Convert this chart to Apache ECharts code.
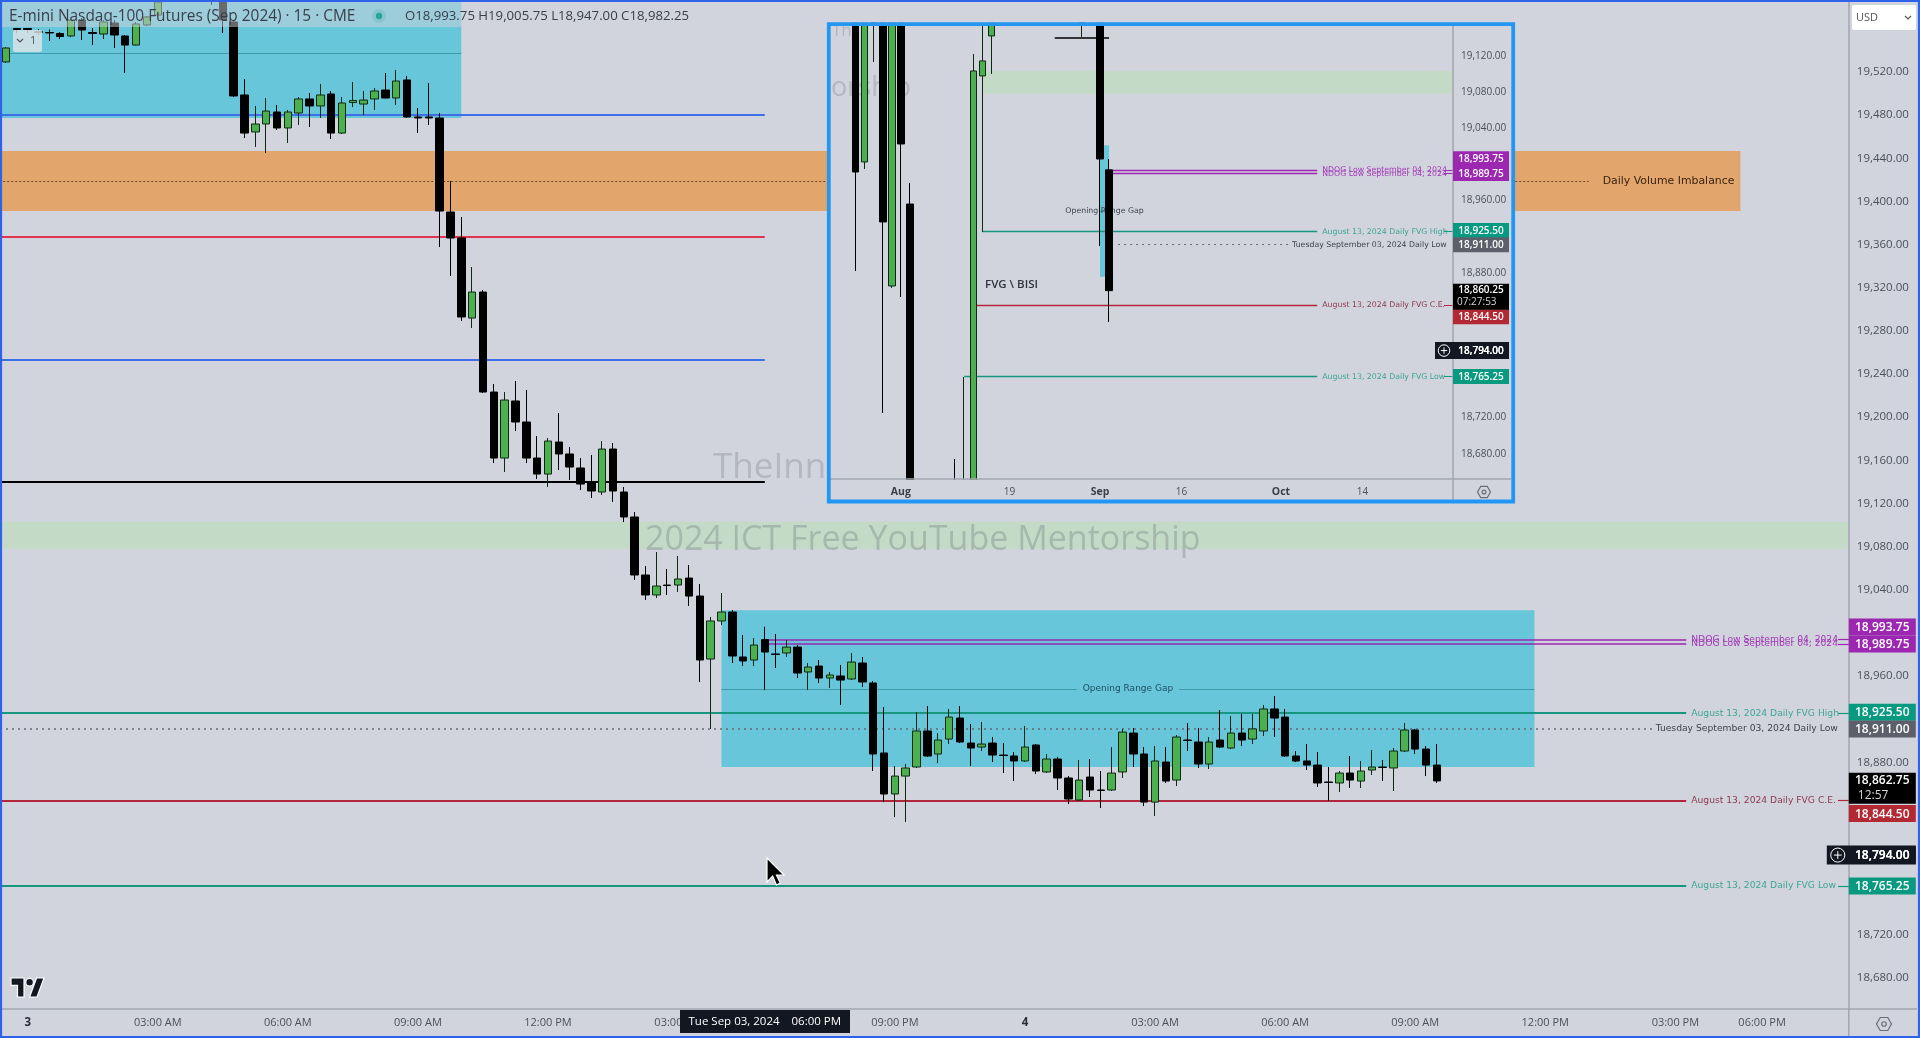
<!DOCTYPE html>
<html><head><meta charset="utf-8">
<style>html,body{margin:0;padding:0;background:#d1d4dc;overflow:hidden}#c{width:1920px;height:1038px}</style>
<script src="https://cdn.jsdelivr.net/npm/echarts@6/dist/echarts.min.js"></script>
</head><body><div id="c"></div>
<script>
// ---- main chart: 15 minute candles, Sep 3-4 2024 ----
const opens=[19529,19529.3,19560.3,19560.3,19556.6,19556.6,19555.7,19553.4,19568.2,19556.6,
19555.2,19565.4,19553.4,19545,19563.6,19572.8,19590,19605,19595,19612,
19600,19584.9,19566.4,19498.7,19464.4,19471.8,19482.9,19468.1,19482,19495,
19488.5,19499.6,19463.4,19491.7,19490.3,19495,19503.3,19495.9,19512.6,19478.3,
19478.3,19477.35,19390.2,19366.1,19291.9,19316,19223.3,19162.1,19215,19195.5,
19162.1,19147.25,19176.95,19165.85,19152.85,19139.85,19130.6,19170.45,19130.6,19107.45,
19053.65,19035.15,19044.35,19044.35,19050.85,19034.15,18975.75,19011.05,19019.35,18977.65,
18974.85,18993.75,18980.45,18981.35,18986.85,18963.75,18969.25,18958.15,18960.05,18957.25,
18972.05,18953.55,18888.65,18850.65,18867.25,18875.65,18909.05,18887.7,18901.55,18921.05,
18897.85,18894.15,18897.85,18886.75,18885.85,18881.25,18896.05,18871.05,18883.05,18865.45,
18845.05,18866.35,18854.35,18854.35,18871.05,18907.15,18887.7,18843.15,18880.25,18863.55,
18900.65,18898.85,18878.45,18900.65,18893.25,18907.15,18901.55,18909.05,18929.45,18921.95,
18885.85,18881.25,18877.45,18861.75,18860.85,18870.05,18862.65,18872.85,18875.65,18874.75,
18890.45,18909.95,18892.3,18877.45];
const closes=[19535,19542.25,19559.4,19559.4,19557.5,19556.2,19552.9,19568.2,19558.9,19555.7,
19566.4,19554.3,19545,19564.5,19571,19584.9,19605,19595,19612,19600,
19595,19568.2,19497.8,19463.4,19471.8,19483.8,19468.1,19482.9,19495,19488.5,
19498.7,19463.4,19491.25,19493.6,19494,19502.4,19495.9,19511.65,19478.3,19477.35,
19477.35,19391.1,19366.1,19292.85,19316,19223.3,19162.1,19215.9,19195.5,19162.1,
19147.25,19177.85,19165.85,19153.75,19138,19131.55,19170.45,19131.55,19107.45,19053.65,
19035.15,19043.45,19043.9,19049.95,19034.15,18974.85,19011.05,19019.35,18978.55,18973.95,
18988.75,18982.25,18980,18986.85,18962.75,18968.35,18958.15,18960.95,18956.25,18972.95,
18954.45,18887.7,18850.65,18867.25,18874.75,18909.05,18885.85,18900.65,18921.95,18898.85,
18893.25,18896.95,18886.75,18886.3,18881.25,18894.15,18871.95,18883.05,18865.45,18845.95,
18863.55,18854.35,18853.9,18870.05,18908.05,18887.7,18843.15,18881.25,18862.65,18903.45,
18900.2,18878.45,18898.85,18894.15,18907.15,18900.65,18911,18929.45,18921.05,18885.85,
18881.25,18877.45,18860.85,18861.3,18870.05,18863.55,18871.95,18875.65,18875.2,18890.45,
18909.95,18892.3,18877.45,18862.75];
const highs=[19538,19543.2,19560.8,19560.8,19559.9,19559.4,19557.1,19569.1,19570.1,19560.8,
19568.2,19568.2,19554.3,19566.4,19571.9,19586.75,19610,19612,19618,19616,
19610,19590,19568.2,19513.5,19488.5,19495.9,19489.4,19484.8,19496.8,19500.5,
19508.9,19502.4,19496.8,19510.7,19502.4,19505.2,19519.1,19521.9,19516.3,19486.6,
19509.8,19482,19418.9,19385.55,19339.2,19317.9,19230.7,19223.3,19233.5,19225.15,
19182.55,19180.65,19203.85,19172.35,19162.1,19164.95,19177.85,19176.05,19135.25,19112.05,
19061.95,19074.95,19059.25,19071.25,19062.95,19045.35,19014.75,19036.95,19021.25,18998.05,
18995.25,19005.75,18998.95,18993.35,18988.75,18972.05,18974.85,18963.75,18970.25,18981.35,
18977.65,18955.35,18931.25,18876.55,18878.45,18926.65,18932.15,18907.15,18929.45,18932.15,
18915.55,18917.35,18903.45,18897.85,18889.55,18913.65,18897,18887.7,18884.95,18867.25,
18882.15,18883.05,18871.95,18894.15,18911,18911.8,18894.15,18895.1,18894.15,18905.3,
18916.45,18911.8,18903.45,18928.45,18922.95,18924.75,18924.75,18933.15,18941.45,18929.45,
18890.45,18897,18889.55,18875.65,18871.95,18885.85,18881.25,18891.4,18882.15,18893.25,
18916.45,18911,18895.1,18897];
const lows=[19525,19528.35,19556.2,19556.2,19554.3,19548.7,19550.6,19552.4,19549.7,19545,
19550.6,19542.25,19519.1,19544.6,19562.6,19571.9,19588,19592,19592,19597,
19582.1,19556.2,19496.8,19458.8,19450.5,19444.9,19466.2,19454.2,19470.9,19469,
19477.35,19457.9,19462.5,19487.5,19480.1,19484.8,19495.4,19489.4,19477.35,19463.4,
19470.9,19357.75,19330.85,19289.15,19282.65,19222.4,19157.45,19149.15,19187.15,19157.45,
19142.65,19135.25,19151,19141.75,19132.45,19125.05,19127.85,19121.35,19102.75,19049.05,
19030.5,19032.35,19035.15,19037.85,19024.95,18954.45,18911,19007.25,18972.05,18969.25,
18969.25,18947,18967.45,18977.65,18958.15,18947.05,18953.55,18948.85,18933.15,18956.25,
18949.85,18871.95,18843.15,18829.25,18824.65,18874.75,18884.95,18879.35,18896.95,18897.85,
18876.55,18890.45,18880.25,18870.05,18862.65,18880.25,18869.15,18870.05,18854.35,18841.35,
18844.1,18847.85,18837.65,18853.4,18865.45,18875.65,18839.45,18830.2,18860.85,18858.05,
18890.45,18874.75,18873.75,18893.25,18892.3,18895.1,18896.95,18904.35,18903.45,18884.95,
18880.25,18872.85,18857.1,18844.1,18852.45,18856.15,18856.15,18868.25,18862.65,18853.4,
18889.55,18887.7,18867.25,18860.85];
const mainTicks=[19520,19480,19440,19400,19360,19320,19280,19240,19200,19160,19120,19080,19040,18960,18880,18720,18680];
const timeTicks={3:'{b|3}',15:'03:00 AM',27:'06:00 AM',39:'09:00 AM',51:'12:00 PM',63:'03:00 PM',83:'09:00 PM',95:'{b|4}',107:'03:00 AM',119:'06:00 AM',131:'09:00 AM',143:'12:00 PM',155:'03:00 PM',163:'06:00 PM'};
// ---- inset chart: daily candles, visible ones only ----
const dailyIndex=[3,4,5,6,7,8,9,14,15,16,17,18,28,30,31];
const dailyOpens=[19250,19002.5,19230,19180,18865.4,19200,18956,18640,18620,18630,19097.6,19141.8,19170,19200,18993.75];
const dailyCloses=[18991.4,19220,19190,18936.2,19190,19022.4,18600,18620,18640,19103.1,19114.2,19170,19160,19005.8,18860.25];
const dailyLows=[18882,18994.75,19113,18725,18863.2,18853.2,18580,18600,18600,18620,18925.1,19099.8,19140.7,18909.6,18825.6];
const dailyHighs=[19290,19240,19260,19200,19200,19210,18979.3,18674.1,18764.8,19121.9,19160,19190,19200,19210,19005.75];
const insetTicks=[19120,19080,19040,18960,18880,18720,18680];
const dayTicks={8:'{b|Aug}',20:'19',30:'{b|Sep}',39:'16',50:'{b|Oct}',59:'14'};
// ---- price levels ----
const ndogHigh=18993.75, ndogLow=18989.75, fvgHigh=18925.5, dailyLow=18911, fvgCE=18844.5, fvgLow=18765.25;
const orgTop=19021, orgBottom=18875.7, orgMid=18948;
const viTop=19446.75, viBottom=19391.1, viMid=19419;
const greenTop=19103, greenBottom=19078;
const blueHigh=19480, redMid=19367, blueLow=19253.4, blackLine=19139.85, topZoneBottom=19477.35, topZoneMid=19537.6;
const mainMin=18651.3, mainMax=19586.75, insetMin=18652, insetMax=19152.8;
const tagValues=[18993.75,18989.75,18925.5,18911,18844.5,18794,18765.25];
const tagColors=['#9c27b0','#9c27b0','#089981','#5d606b','#b22833','#131722','#089981'];
const mainTagShift=[-12.6,0,-1,0,13,0,0], insetTagShift=[-11,0,-1,0,12,0,0];
const mainClose=18862.75, mainCountdown='12:57', insetClose=18860.25, insetCountdown='07:27:53';

const categories=[];for(let i=0;i<172;i++)categories.push('m'+i);
const days=[];for(let i=0;i<70;i++)days.push('d'+i);
const fmt=v=>v.toLocaleString('en-US',{minimumFractionDigits:2,maximumFractionDigits:2});
const BG='#d1d4dc', AX='#a3a6af', TXT='#4c505b', FONT='"Open Sans"', LBL='"DejaVu Sans"';
const GREEN='#4caf50', TEAL='#16957f', RED='#c0283c', PURPLE='#9c27b0', BLUE='#3f6fe6', CYAN='#68c6da', GZ='#c3dbc6';
const candleStyle={color:GREEN,color0:'#000',borderColor:'#0d2a10',borderColor0:'#000',borderWidth:1};
// candles that run off the inset end just past its edge, under the frame and the axis strip
const clampInset=v=>Math.min(Math.max(v,insetMin-20),insetMax+3);

function ln(a,b,v,color,width,type,label){
  const from={coord:[a,v],lineStyle:{color,width,type:type||'solid',opacity:1}};
  from.label=label?Object.assign({show:true,fontFamily:LBL},label):{show:false};
  return [from,{coord:[b,v]}];
}
function lab(text,size,distance,color,pos){return {formatter:text,fontSize:size,distance:distance,position:pos||'end',color:color};}

const mainLines=[
 ln(0,43,topZoneMid,'#3f9aa9',1,'solid'),
 ln(0,71,blueHigh,BLUE,1.8),
 ln(0,147,viMid,'#6b4522',1,[2,2]),
 ln(0,71,redMid,'#e0354e',1.8),
 ln(0,71,blueLow,BLUE,1.8),
 ln(0,71,blackLine,'#000',2),
 ln(67,142,orgMid,'#3f9aa9',1,'solid',Object.assign(lab('Opening Range Gap',9,0,'#1f4f63','middle'),{backgroundColor:CYAN,padding:[1,6],verticalAlign:'middle'})),
 ln(71,156,ndogHigh,PURPLE,1.5,'solid',lab('NDOG Low September 04, 2024',9.2,5,'#a23ab8')),
 ln(71,156,ndogLow,PURPLE,1.5,'solid',lab('NDOG Low September 04, 2024',9.2,5,'#a23ab8')),
 ln(0,156,fvgHigh,TEAL,1.8,'solid',lab('August 13, 2024 Daily FVG High',9.2,5,'#3fa595')),
 ln(1,153,dailyLow,'#666a75',1.5,[2,4],lab('Tuesday September 03, 2024 Daily Low',9.2,2,'#3f434e')),
 ln(0,156,fvgCE,'#b5263c',1.8,'solid',lab('August 13, 2024 Daily FVG C.E.',9.2,5,'#8c3a52')),
 ln(0,156,fvgLow,TEAL,1.8,'solid',lab('August 13, 2024 Daily FVG Low',9.2,5,'#3fa595')),
 ln(170,171,ndogHigh,PURPLE,1.2), ln(170,171,ndogLow,PURPLE,1.2), ln(170,171,fvgHigh,TEAL,1.2), ln(170,171,fvgCE,'#b5263c',1.2), ln(170,171,fvgLow,TEAL,1.2)
];
const insetLines=[
 ln(25,31,blackLine,'#000',1.5),
 ln(30,31,orgMid,'#3f9aa9',1,'solid',Object.assign(lab('Opening Range Gap',7.8,0,'#3f434e','middle'),{verticalAlign:'middle'})),
 ln(31,54,ndogHigh,PURPLE,1.3,'solid',lab('NDOG Low September 04, 2024',7.8,5,'#a23ab8')),
 ln(31,54,ndogLow,PURPLE,1.3,'solid',lab('NDOG Low September 04, 2024',7.8,5,'#a23ab8')),
 ln(17,54,fvgHigh,TEAL,1.3,'solid',lab('August 13, 2024 Daily FVG High',7.8,5,'#3fa595')),
 ln(32,51,dailyLow,'#666a75',1.2,[2,4],lab('Tuesday September 03, 2024 Daily Low',7.8,2,'#3f434e')),
 ln(16,54,fvgCE,'#b5263c',1.3,'solid',lab('August 13, 2024 Daily FVG C.E.',7.8,5,'#8c3a52')),
 ln(15,54,fvgLow,TEAL,1.3,'solid',lab('August 13, 2024 Daily FVG Low',7.8,5,'#3fa595')),
 ln(68,69,ndogHigh,PURPLE,1), ln(68,69,ndogLow,PURPLE,1), ln(68,69,fvgHigh,TEAL,1), ln(68,69,fvgCE,'#b5263c',1), ln(68,69,fvgLow,TEAL,1)
];
function zone(a,b,top,bot,color,label){
  return [{coord:[a,top],itemStyle:{color,opacity:1},label:label||{show:false}},{coord:[b,bot]}];
}
const mainZones=[
 zone(0,43,mainMax,topZoneBottom,CYAN),
 zone(0,161,viTop,viBottom,'#e2a56b',{show:true,position:'insideRight',distance:6,formatter:'Daily Volume Imbalance',fontFamily:LBL,fontSize:10.9,color:'#3a2410'}),
 zone(0,171,greenTop,greenBottom,GZ),
 zone(67,142,orgTop,orgBottom,CYAN)
];
const insetZones=[
 zone(17,69,greenTop,greenBottom,GZ),
 zone(30,31,orgTop,orgBottom,CYAN)
];

const option={
 animation:false,backgroundColor:BG,
 grid:[
  {left:-4.84,width:1853.64,top:0,height:1009,show:false,containLabel:false,outerBoundsMode:'none'},
  {left:828.45,width:624.55,top:26,height:453,show:false,containLabel:false,outerBoundsMode:'none'}
 ],
 xAxis:[
  {type:'category',gridIndex:0,data:categories,boundaryGap:false,
   axisLine:{show:true,onZero:false,lineStyle:{color:AX,width:1.5}},axisTick:{show:false},splitLine:{show:false},
   axisLabel:{interval:i=>timeTicks[i]!==undefined,formatter:(v,i)=>timeTicks[i],margin:8,fontFamily:FONT,fontSize:11,color:TXT,hideOverlap:false,
     rich:{b:{fontFamily:FONT,fontSize:11.5,fontWeight:'bold',color:'#2a2e39'}}}},
  {type:'category',gridIndex:1,data:days,boundaryGap:false,zlevel:1,z:8,
   axisLine:{show:true,onZero:false,lineStyle:{color:AX,width:1.5}},axisTick:{show:false},splitLine:{show:false},
   axisLabel:{interval:i=>dayTicks[i]!==undefined,formatter:(v,i)=>dayTicks[i],margin:8,fontFamily:FONT,fontSize:10,color:TXT,hideOverlap:false,
     rich:{b:{fontFamily:FONT,fontSize:10.5,fontWeight:'bold',color:'#3a3e49'}}}}
 ],
 yAxis:[
  {type:'value',gridIndex:0,position:'right',min:mainMin,max:mainMax,splitLine:{show:false},axisTick:{show:false},
   axisLine:{show:true,onZero:false,lineStyle:{color:AX,width:1.5}},
   axisLabel:{customValues:mainTicks,formatter:fmt,margin:8,fontFamily:FONT,fontSize:11.5,color:TXT,hideOverlap:false}},
  {type:'value',gridIndex:1,position:'right',min:insetMin,max:insetMax,splitLine:{show:false},axisTick:{show:false},zlevel:1,z:8,
   axisLine:{show:true,onZero:false,lineStyle:{color:AX,width:1.5}},
   axisLabel:{customValues:insetTicks,formatter:fmt,margin:8,fontFamily:FONT,fontSize:10,color:TXT,hideOverlap:false}}
 ],
 series:[
  {type:'candlestick',name:'NQ 15m',xAxisIndex:0,yAxisIndex:0,barWidth:8,clip:true,z:2,itemStyle:candleStyle,silent:true,
   data:opens.map((o,i)=>[o,closes[i],lows[i],highs[i]]),
   markArea:{silent:true,z:0,data:mainZones},
   markLine:{silent:true,z:1,symbol:'none',data:mainLines,animation:false}},
  {type:'candlestick',name:'NQ 1D',xAxisIndex:1,yAxisIndex:1,barWidth:7,clip:false,zlevel:1,z:6,itemStyle:candleStyle,silent:true,
   encode:{x:0,y:[1,2,3,4]},
   data:dailyIndex.map((j,k)=>[j,clampInset(dailyOpens[k]),clampInset(dailyCloses[k]),clampInset(dailyLows[k]),clampInset(dailyHighs[k])]),
   markArea:{silent:true,zlevel:1,z:2,data:insetZones},
   markLine:{silent:true,zlevel:1,z:4,symbol:'none',data:insetLines,animation:false}}
 ]
};
const chart=echarts.init(document.getElementById('c'),null,{renderer:'canvas'});
chart.setOption(option);

// ---- chrome -------------------------------------------------
const yPx=(k,v)=>chart.convertToPixel({yAxisIndex:k},v);
const xPx=(k,i)=>chart.convertToPixel({xAxisIndex:k},i);
function T(x,y,text,size,fill,o){o=o||{};return {type:'text',x,y,silent:true,zlevel:o.zl??0,z:o.z??5,style:{text,fill,font:(o.w||'normal')+' '+size+'px '+(o.f||FONT),textAlign:o.a||'left',textVerticalAlign:o.v||'middle'}};}
function R(x,y,w,h,fill,o){o=o||{};return {type:'rect',silent:true,zlevel:o.zl??0,z:o.z??4,shape:{x,y,width:w,height:h,r:o.r||0},style:{fill:fill,stroke:o.s||null,lineWidth:o.lw||0}};}
function L(x1,y1,x2,y2,c,w,o){o=o||{};return {type:'line',silent:true,zlevel:o.zl??0,z:o.z??5,shape:{x1,y1,x2,y2},style:{stroke:c,lineWidth:w}};}
function C(cx,cy,r,fill,stroke,lw,o){o=o||{};return {type:'circle',silent:true,zlevel:o.zl??0,z:o.z??5,shape:{cx,cy,r},style:{fill:fill||'none',stroke:stroke||null,lineWidth:lw||0}};}
function P(points,x,y,sx,sy,fill,stroke,lw,z){return {type:'polygon',silent:true,z:z||6,shape:{points:points.map(p=>[x+p[0]*sx,y+p[1]*sy])},style:{fill,stroke,lineWidth:lw}};}
function hex(cx,cy,r,o){const p=[];for(let a=0;a<6;a++)p.push([cx+r*Math.cos(a*Math.PI/3),cy+r*Math.sin(a*Math.PI/3)]);
 return [{type:'polygon',silent:true,zlevel:o.zl||0,z:9,shape:{points:p},style:{fill:'none',stroke:'#6a6d78',lineWidth:1.2}},C(cx,cy,r*0.3,null,'#6a6d78',1.2,{zl:o.zl,z:9})];}
function tags(k,x,w,h,fs,shifts,close,cd,closeH,lh,plusW){
 const o={zl:k,z:9},out=[];
 tagValues.forEach((v,i)=>{const y=yPx(k,v)+shifts[i];
  out.push(R(x,y-h/2,w,h,tagColors[i],o));
  out.push(T(x+w/2,y+0.5,fmt(v),fs,'#fff',{zl:k,z:10,a:'center',w:'600'}));
  if(v===18794){const bx=x-plusW;out.push(R(bx,y-h/2-1,plusW+w,h+2,'#131722',o));
    out.push(T(x+w/2,y+0.5,fmt(v),fs,'#fff',{zl:k,z:10,a:'center',w:'600'}));
    const cx=bx+plusW/2,r=plusW*0.32;out.push(C(cx,y,r,null,'#fff',1,{zl:k,z:10}));
    out.push(L(cx-r*.55,y,cx+r*.55,y,'#fff',1,{zl:k,z:10}));out.push(L(cx,y-r*.55,cx,y+r*.55,'#fff',1,{zl:k,z:10}));}
 });
 const yc=yPx(k,close),top=yc-closeH*0.26;
 out.push(R(x,top,w,closeH,'#000',o));
 out.push(T(x+w/2,yc,fmt(close),fs,'#fff',{zl:k,z:10,a:'center',w:'600'}));
 out.push(T(x+(k?4:9),yc+lh,cd,fs,'#d4d4d4',{zl:k,z:10}));
 return out;
}
const logoT=[[0,4],[14,4],[14,22],[7,22],[7,11],[0,11]], logoV=[[20,22],[27.5,4],[35.5,4],[28,22]];
const cursorShape=[[0,0],[0,24],[6,18],[10,27],[14,25],[10,17],[18,17]];
const gfx=[
 // main watermark and header
 T(713,468,'TheInnerCircleTrader',35,'#b4b7c1',{z:1}),
 T(645,540,'2024 ICT Free YouTube Mentorship',34,'rgba(110,118,125,0.34)',{z:1}),
 R(0,0,705,27,'rgba(209,212,220,0.5)',{z:3}),
 T(9,16.5,'E-mini Nasdaq-100 Futures (Sep 2024) · 15 · CME',15.4,'#3a3e4a'),
 C(379,16,7,'rgba(38,166,154,0.18)'),C(379,16,3.2,'#26a69a'),
 T(405,16.5,'O18,993.75 H19,005.75 L18,947.00 C18,982.25',13.2,'#3a3e4a'),
 R(13,30,29,22,'rgba(226,228,233,0.8)',{z:3,r:2}),
 {type:'polyline',silent:true,z:5,shape:{points:[[17,39],[20,42],[23,39]]},style:{fill:'none',stroke:'#555',lineWidth:1.2}},
 T(30,41,'1',11,'#555'),
 // axis extensions
 L(1848.8,1009,1848.8,1036,AX,1.5), L(1848.8,1009,1917,1009,AX,1.5),
 ...hex(1884,1024,7.5,{zl:0}),
 // USD box
 R(1852,5,64,25,'#fff',{r:2,z:6}),T(1856,17.5,'USD',11,'#555',{z:7}),
 {type:'polyline',silent:true,z:7,shape:{points:[[1905,16],[1908,19],[1911,16]]},style:{fill:'none',stroke:'#555',lineWidth:1.2}},
 // time crosshair label
 R(680,1010,170,23,'#131722',{z:6}),T(xPx(0,71),1022,'Tue Sep 03, 2024    06:00 PM',11.5,'#fff',{z:7,a:'center'}),
 // tradingview logo and cursor
 P(logoT,11,973.8,33/35.5,19/18,'#131722','#fff',1.2),
 P(logoV,11,973.8,33/35.5,19/18,'#131722','#fff',1.2),
 C(11+20*33/35.5,973.8+8*19/18,3.8,'#131722','#fff',1.2,{z:7}),
 P(cursorShape,767,858,17/18,1,'#000','#fff',1.2,8),
 // outer frame
 R(1,1,1918,1036,'none',{s:'#2e62ea',lw:2.2,z:20}),
 // inset panel
 R(827,22,688,481,BG,{zl:1,z:0}),
 R(830,480,623,20,BG,{zl:1,z:7}),
 T(832,31,'Th',17,'#b4b7c1',{zl:1,z:1}),
 T(831,88,'orship',27,'#b4b7c1',{zl:1,z:1}),
 T(985,285,'FVG \\ BISI',11.5,'#2f333e',{zl:1,z:7,w:'600'}),
 L(1453,479,1453,500,AX,1.5,{zl:1,z:8}), L(1453,479,1511,479,AX,1.5,{zl:1,z:8}),
 ...hex(1484,492,6.5,{zl:1}),
 R(828.8,24.1,684.4,477.4,'none',{zl:1,z:12,s:'#2196f3',lw:3.8}),
 ...tags(0,1848.8,67,17,12,mainTagShift,mainClose,mainCountdown,31,15,22),
 ...tags(1,1453,56,15,10,insetTagShift,insetClose,insetCountdown,26,12,18)
];
chart.setOption({graphic:{elements:gfx}});
</script></body></html>
